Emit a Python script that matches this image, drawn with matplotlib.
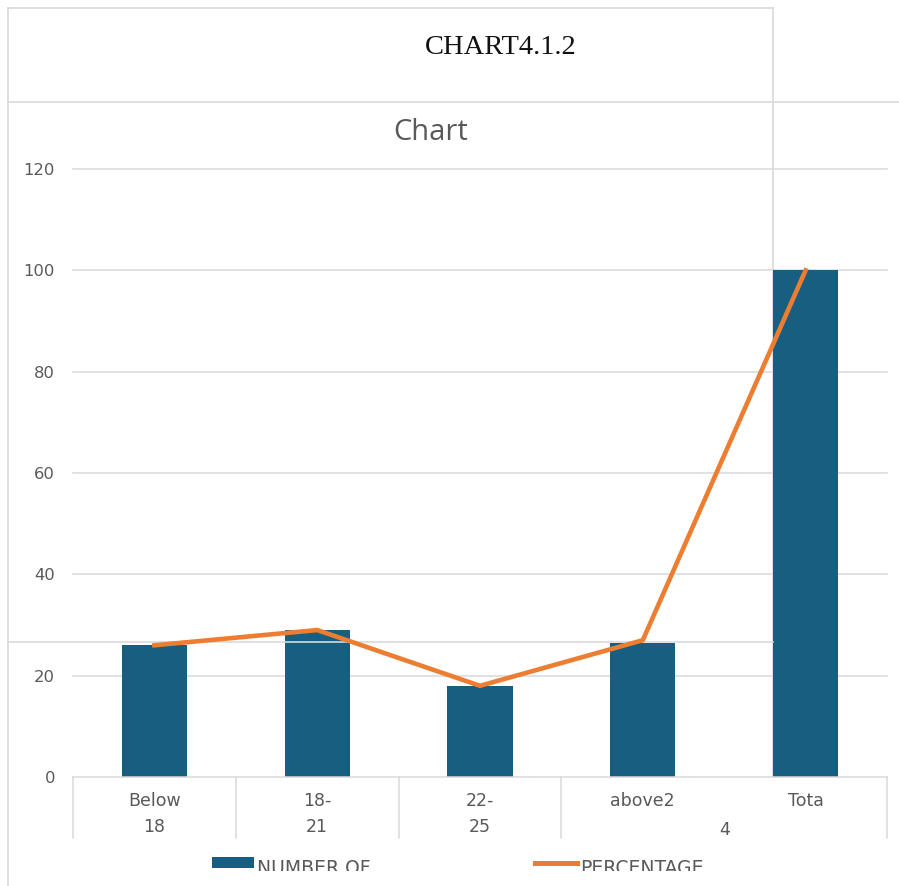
import matplotlib
matplotlib.use("Agg")
import matplotlib.pyplot as plt
from matplotlib.lines import Line2D
from matplotlib.patches import Rectangle
from matplotlib.transforms import Bbox, TransformedBbox, blended_transform_factory

# ---- data ----
categories = ["Below 18", "18-21", "22-25", "above24", "Total"]
tick_labels = ["Below\n18", "18-\n21", "22-\n25", "above2", "Tota"]
number_of = [26, 29, 18, 26.4, 100]
percentage = [26, 29, 18, 27, 100]
y_ticks = [0, 20, 40, 60, 80, 100, 120]

W, H = 899, 886
BAR = "#175E80"
ORANGE = "#ED7D31"
GRID = "#D9D9D9"
TXT = "#595959"

fig = plt.figure(figsize=(W / 100, H / 100), dpi=100)
fig.patch.set_facecolor("white")


def fx(px):
    return px / W


def fy(py):
    return 1 - py / H


# axes: x 73..887, y(0)=777, y(120)=169
ax = fig.add_axes([fx(73), fy(777), fx(887) - fx(73), fy(169) - fy(777)])
ax.patch.set_visible(False)

x = list(range(len(categories)))
ax.bar(x, number_of, width=0.40, color=BAR, zorder=2)
ax.plot(x, percentage, color=ORANGE, lw=3.3, zorder=4, solid_joinstyle="miter")

ax.set_xlim(-0.5, len(categories) - 0.5)
ax.set_ylim(0, 120)
ax.set_yticks(y_ticks)
ax.set_yticklabels([str(v) for v in y_ticks])
for v in y_ticks[1:]:
    ax.axhline(v, color=GRID, lw=1.1, zorder=1, clip_on=False)

for s in ["top", "right", "left"]:
    ax.spines[s].set_visible(False)
ax.spines["bottom"].set_color(GRID)
ax.spines["bottom"].set_linewidth(1.1)

ax.tick_params(axis="y", length=0, pad=13, labelsize=11.8, labelcolor=TXT)
ax.set_xticks(x)
ax.set_xticklabels(tick_labels, linespacing=1.6)
ax.tick_params(axis="x", length=0, pad=10.5, labelsize=12.5, labelcolor=TXT)
# wrapped remainder of "above24"
ax.text(3.5, -0.0875, "4", transform=blended_transform_factory(ax.transData, ax.transAxes),
        ha="center", va="center", fontsize=12.5, color=TXT)

# category box separators
bt = blended_transform_factory(ax.transData, ax.transAxes)
for sx in [-0.5, 0.5, 1.5, 2.5, 4.5]:
    ax.add_artist(Line2D([sx, sx], [0, -0.1003], transform=bt, color=GRID, lw=1.1,
                         clip_on=False))

# ---- frame lines (page table borders) ----
def fline(xs, ys, z=-1, target=None):
    ln = Line2D([fx(v) for v in xs], [fy(v) for v in ys], transform=fig.transFigure,
                color=GRID, lw=1.2, zorder=z, clip_on=False)
    if target is None:
        fig.add_artist(ln)
    else:
        target.add_artist(ln)

fline([8, 773], [8, 8])
fline([8, 8], [8, 886])
fline([8, 899], [102, 102])
fline([773, 773], [8, 777])
fline([8, 773], [642, 642], z=3, target=ax)

# ---- titles ----
fig.text(fx(501), fy(47), "CHART4.1.2", ha="center", va="center",
         fontsize=20.5, family="Liberation Serif", color="#111111")
fig.text(fx(431), fy(133), "Chart", ha="center", va="center",
         fontsize=21, family="Open Sans", color=TXT)

# ---- legend (clipped at bottom like the reference) ----
clip = TransformedBbox(Bbox([[0, fy(871)], [1, 1]]), fig.transFigure)
fig.add_artist(Rectangle((fx(212), fy(868)), fx(254) - fx(212), fy(857) - fy(868),
                         transform=fig.transFigure, color=BAR, lw=0))
fig.add_artist(Line2D([fx(535), fx(577)], [fy(862.5), fy(862.5)], transform=fig.transFigure,
                      color=ORANGE, lw=3.6))
t1 = fig.text(fx(257), fy(874), "NUMBER OF", ha="left", va="baseline", fontsize=13.5, color=TXT)
t2 = fig.text(fx(580), fy(874), "PERCENTAGE", ha="left", va="baseline", fontsize=13.5, color=TXT)
for t in (t1, t2):
    t.set_clip_box(clip)
    t.set_clip_on(True)

fig.savefig("out.png", dpi=100)
